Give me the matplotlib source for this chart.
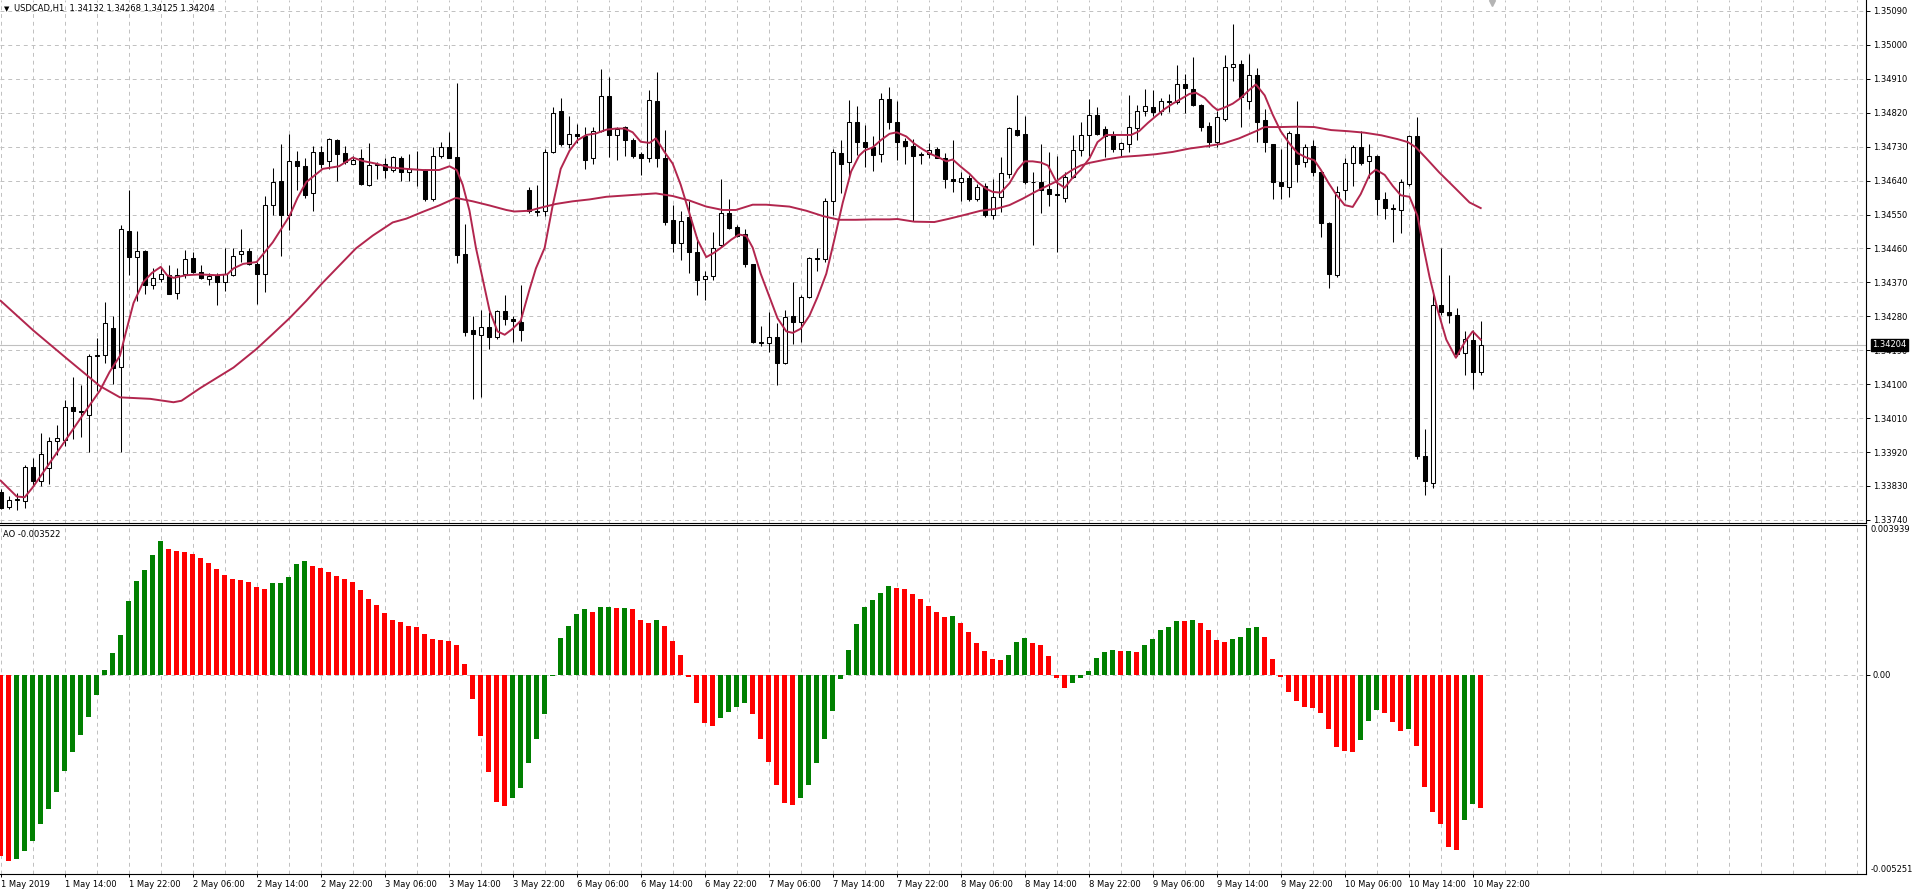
import numpy as np
import matplotlib
matplotlib.use("Agg")
import matplotlib.pyplot as plt
import matplotlib.transforms as mtransforms

# USDCAD H1, bar 0 = 1 May 2019 06:00, last bar = 10 May 2019 23:00
opens = [1.33814, 1.33775, 1.33793, 1.33789, 1.33881, 1.33843, 1.33878, 1.33948, 1.33953, 1.34040,
         1.34028, 1.34018, 1.34175, 1.34177, 1.34248, 1.34146, 1.34507, 1.34437, 1.34452, 1.34362,
         1.34380, 1.34389, 1.34342, 1.34392, 1.34435, 1.34398, 1.34380, 1.34389, 1.34370, 1.34389,
         1.34444, 1.34453, 1.34420, 1.34393, 1.34574, 1.34639, 1.34550, 1.34692, 1.34678, 1.34606,
         1.34715, 1.34692, 1.34747, 1.34712, 1.34685, 1.34699, 1.34629, 1.34682, 1.34685, 1.34668,
         1.34701, 1.34664, 1.34671, 1.34668, 1.34590, 1.34706, 1.34729, 1.34703, 1.34446, 1.34243,
         1.34231, 1.34251, 1.34226, 1.34293, 1.34272, 1.34264, 1.34615, 1.34560, 1.34560, 1.34717,
         1.34824, 1.34736, 1.34764, 1.34757, 1.34699, 1.34772, 1.34865, 1.34761, 1.34782, 1.34747,
         1.34710, 1.34699, 1.34851, 1.34701, 1.34535, 1.34474, 1.34543, 1.34451, 1.34380, 1.34386,
         1.34469, 1.34553, 1.34518, 1.34497, 1.34418, 1.34212, 1.34210, 1.34226, 1.34157, 1.34282,
         1.34264, 1.34331, 1.34435, 1.34431, 1.34587, 1.34712, 1.34688, 1.34796, 1.34743, 1.34728,
         1.34710, 1.34856, 1.34796, 1.34745, 1.34731, 1.34709, 1.34710, 1.34723, 1.34701, 1.34645,
         1.34637, 1.34648, 1.34592, 1.34626, 1.34550, 1.34597, 1.34658, 1.34774, 1.34764, 1.34636,
         1.34636, 1.34618, 1.34604, 1.34594, 1.34650, 1.34720, 1.34761, 1.34815, 1.34776, 1.34761,
         1.34723, 1.34738, 1.34779, 1.34825, 1.34834, 1.34825, 1.34851, 1.34849, 1.34895, 1.34883,
         1.34840, 1.34786, 1.34742, 1.34803, 1.34942, 1.34949, 1.34851, 1.34921, 1.34800, 1.34738,
         1.34636, 1.34623, 1.34764, 1.34688, 1.34731, 1.34662, 1.34528, 1.34389, 1.34614, 1.34687,
         1.34728, 1.34691, 1.34706, 1.34592, 1.34567, 1.34562, 1.34630, 1.34757, 1.33909, 1.33839,
         1.34310, 1.34291, 1.34284, 1.34182, 1.34218, 1.34132]
highs = [1.33822, 1.33802, 1.33810, 1.33885, 1.33905, 1.33970, 1.33960, 1.33991, 1.34058, 1.34120,
         1.34099, 1.34181, 1.34223, 1.34318, 1.34282, 1.34523, 1.34615, 1.34505, 1.34455, 1.34407,
         1.34407, 1.34417, 1.34407, 1.34456, 1.34450, 1.34415, 1.34395, 1.34395, 1.34462, 1.34462,
         1.34511, 1.34462, 1.34425, 1.34599, 1.34674, 1.34736, 1.34764, 1.34719, 1.34699, 1.34733,
         1.34733, 1.34754, 1.34750, 1.34733, 1.34706, 1.34724, 1.34740, 1.34689, 1.34699, 1.34706,
         1.34706, 1.34710, 1.34719, 1.34670, 1.34729, 1.34743, 1.34768, 1.34900, 1.34525, 1.34282,
         1.34296, 1.34292, 1.34296, 1.34337, 1.34282, 1.34362, 1.34622, 1.34629, 1.34724, 1.34835,
         1.34858, 1.34812, 1.34789, 1.34782, 1.34782, 1.34937, 1.34914, 1.34782, 1.34785, 1.34754,
         1.34715, 1.34879, 1.34928, 1.34775, 1.34574, 1.34560, 1.34587, 1.34490, 1.34400, 1.34504,
         1.34643, 1.34590, 1.34521, 1.34511, 1.34420, 1.34254, 1.34292, 1.34261, 1.34296, 1.34372,
         1.34337, 1.34437, 1.34462, 1.34594, 1.34724, 1.34747, 1.34854, 1.34838, 1.34788, 1.34757,
         1.34873, 1.34888, 1.34851, 1.34752, 1.34750, 1.34716, 1.34739, 1.34728, 1.34713, 1.34747,
         1.34662, 1.34655, 1.34630, 1.34633, 1.34645, 1.34703, 1.34782, 1.34866, 1.34811, 1.34662,
         1.34738, 1.34717, 1.34706, 1.34662, 1.34760, 1.34796, 1.34856, 1.34834, 1.34786, 1.34771,
         1.34742, 1.34866, 1.34841, 1.34883, 1.34881, 1.34859, 1.34869, 1.34946, 1.34924, 1.34968,
         1.34844, 1.34796, 1.34825, 1.34972, 1.35055, 1.34961, 1.34975, 1.34939, 1.34830, 1.34738,
         1.34723, 1.34771, 1.34851, 1.34738, 1.34747, 1.34669, 1.34531, 1.34626, 1.34699, 1.34735,
         1.34771, 1.34738, 1.34709, 1.34611, 1.34578, 1.34643, 1.34761, 1.34808, 1.33981, 1.34349,
         1.34461, 1.34390, 1.34301, 1.34240, 1.34244, 1.34268]
lows = [1.33768, 1.33770, 1.33766, 1.33771, 1.33832, 1.33830, 1.33836, 1.33912, 1.33936, 1.33955,
        1.33961, 1.33921, 1.34083, 1.34156, 1.34101, 1.33921, 1.34389, 1.34321, 1.34340, 1.34352,
        1.34370, 1.34338, 1.34325, 1.34382, 1.34395, 1.34379, 1.34362, 1.34309, 1.34346, 1.34387,
        1.34425, 1.34417, 1.34312, 1.34344, 1.34549, 1.34439, 1.34508, 1.34615, 1.34594, 1.34560,
        1.34674, 1.34671, 1.34640, 1.34685, 1.34683, 1.34629, 1.34625, 1.34643, 1.34646, 1.34664,
        1.34640, 1.34640, 1.34625, 1.34587, 1.34587, 1.34701, 1.34699, 1.34421, 1.34229, 1.34060,
        1.34067, 1.34192, 1.34219, 1.34257, 1.34212, 1.34215, 1.34553, 1.34546, 1.34546, 1.34712,
        1.34733, 1.34726, 1.34740, 1.34671, 1.34685, 1.34768, 1.34703, 1.34694, 1.34706, 1.34699,
        1.34654, 1.34688, 1.34675, 1.34521, 1.34451, 1.34428, 1.34396, 1.34337, 1.34324, 1.34376,
        1.34465, 1.34511, 1.34490, 1.34411, 1.34210, 1.34201, 1.34185, 1.34099, 1.34154, 1.34206,
        1.34212, 1.34328, 1.34400, 1.34424, 1.34549, 1.34606, 1.34646, 1.34708, 1.34676, 1.34665,
        1.34688, 1.34776, 1.34694, 1.34684, 1.34534, 1.34684, 1.34699, 1.34699, 1.34621, 1.34611,
        1.34585, 1.34585, 1.34585, 1.34543, 1.34538, 1.34557, 1.34648, 1.34757, 1.34630, 1.34470,
        1.34553, 1.34572, 1.34451, 1.34582, 1.34648, 1.34706, 1.34706, 1.34761, 1.34703, 1.34716,
        1.34703, 1.34716, 1.34747, 1.34812, 1.34811, 1.34815, 1.34822, 1.34844, 1.34819, 1.34837,
        1.34771, 1.34728, 1.34728, 1.34798, 1.34905, 1.34782, 1.34830, 1.34742, 1.34716, 1.34592,
        1.34592, 1.34597, 1.34636, 1.34677, 1.34652, 1.34490, 1.34356, 1.34385, 1.34589, 1.34626,
        1.34680, 1.34648, 1.34549, 1.34538, 1.34476, 1.34502, 1.34626, 1.33901, 1.33806, 1.33825,
        1.34284, 1.34262, 1.34175, 1.34123, 1.34087, 1.34125]
closes = [1.33771, 1.33793, 1.33795, 1.33881, 1.33844, 1.33914, 1.33948, 1.33957, 1.34040, 1.34028,
          1.34026, 1.34175, 1.34177, 1.34263, 1.34144, 1.34511, 1.34437, 1.34452, 1.34362, 1.34382,
          1.34392, 1.34340, 1.34389, 1.34431, 1.34397, 1.34381, 1.34386, 1.34370, 1.34391, 1.34440,
          1.34452, 1.34419, 1.34393, 1.34576, 1.34636, 1.34550, 1.34692, 1.34678, 1.34601, 1.34715,
          1.34685, 1.34749, 1.34710, 1.34689, 1.34694, 1.34632, 1.34682, 1.34685, 1.34668, 1.34703,
          1.34664, 1.34671, 1.34670, 1.34590, 1.34706, 1.34729, 1.34701, 1.34442, 1.34238, 1.34233,
          1.34251, 1.34226, 1.34293, 1.34272, 1.34268, 1.34243, 1.34560, 1.34557, 1.34717, 1.34819,
          1.34736, 1.34764, 1.34758, 1.34694, 1.34772, 1.34865, 1.34761, 1.34778, 1.34747, 1.34706,
          1.34701, 1.34854, 1.34699, 1.34529, 1.34474, 1.34532, 1.34451, 1.34376, 1.34386, 1.34462,
          1.34553, 1.34515, 1.34493, 1.34418, 1.34212, 1.34210, 1.34226, 1.34157, 1.34279, 1.34264,
          1.34331, 1.34435, 1.34432, 1.34587, 1.34717, 1.34685, 1.34796, 1.34743, 1.34729, 1.34709,
          1.34856, 1.34796, 1.34742, 1.34731, 1.34706, 1.34710, 1.34720, 1.34701, 1.34645, 1.34640,
          1.34648, 1.34592, 1.34623, 1.34550, 1.34597, 1.34659, 1.34779, 1.34761, 1.34636, 1.34637,
          1.34616, 1.34604, 1.34601, 1.34650, 1.34720, 1.34761, 1.34815, 1.34764, 1.34757, 1.34723,
          1.34739, 1.34783, 1.34825, 1.34837, 1.34822, 1.34851, 1.34849, 1.34895, 1.34885, 1.34840,
          1.34783, 1.34742, 1.34808, 1.34942, 1.34950, 1.34862, 1.34921, 1.34796, 1.34742, 1.34636,
          1.34626, 1.34767, 1.34684, 1.34728, 1.34662, 1.34528, 1.34393, 1.34611, 1.34687, 1.34728,
          1.34687, 1.34706, 1.34592, 1.34567, 1.34565, 1.34637, 1.34757, 1.33909, 1.33842, 1.34310,
          1.34291, 1.34283, 1.34179, 1.34221, 1.34132, 1.34204]

# Awesome Oscillator values, one per bar
ao = [-0.00479, -0.00491, -0.00486, -0.00464, -0.00437, -0.00394, -0.00355, -0.00309, -0.00255, -0.00205,
      -0.00160, -0.00112, -0.00053, 0.00013, 0.00057, 0.00103, 0.00193, 0.00247, 0.00276, 0.00316,
      0.00352, 0.00332, 0.00326, 0.00323, 0.00318, 0.00307, 0.00293, 0.00277, 0.00262, 0.00251,
      0.00250, 0.00243, 0.00230, 0.00225, 0.00241, 0.00242, 0.00256, 0.00291, 0.00299, 0.00285,
      0.00281, 0.00271, 0.00260, 0.00252, 0.00243, 0.00223, 0.00200, 0.00182, 0.00161, 0.00145,
      0.00138, 0.00129, 0.00124, 0.00107, 0.00095, 0.00090, 0.00089, 0.00078, 0.00028, -0.00065,
      -0.00163, -0.00257, -0.00335, -0.00346, -0.00324, -0.00298, -0.00234, -0.00170, -0.00104, -0.00003,
      0.00096, 0.00129, 0.00160, 0.00174, 0.00166, 0.00177, 0.00179, 0.00175, 0.00176, 0.00174,
      0.00145, 0.00135, 0.00145, 0.00128, 0.00088, 0.00051, -0.00006, -0.00076, -0.00128, -0.00136,
      -0.00115, -0.00099, -0.00085, -0.00075, -0.00104, -0.00170, -0.00231, -0.00291, -0.00338, -0.00344,
      -0.00324, -0.00291, -0.00234, -0.00170, -0.00096, -0.00011, 0.00065, 0.00132, 0.00177, 0.00197,
      0.00216, 0.00232, 0.00229, 0.00226, 0.00213, 0.00200, 0.00181, 0.00166, 0.00152, 0.00155,
      0.00137, 0.00111, 0.00082, 0.00061, 0.00042, 0.00039, 0.00052, 0.00085, 0.00096, 0.00083,
      0.00077, 0.00048, -0.00008, -0.00035, -0.00022, -0.00010, 0.00009, 0.00044, 0.00060, 0.00064,
      0.00061, 0.00063, 0.00060, 0.00077, 0.00093, 0.00117, 0.00125, 0.00141, 0.00140, 0.00144,
      0.00137, 0.00118, 0.00092, 0.00086, 0.00093, 0.00099, 0.00122, 0.00125, 0.00099, 0.00041,
      -0.00006, -0.00047, -0.00069, -0.00086, -0.00089, -0.00101, -0.00144, -0.00190, -0.00201, -0.00204,
      -0.00173, -0.00121, -0.00092, -0.00101, -0.00124, -0.00149, -0.00144, -0.00188, -0.00297, -0.00363,
      -0.00394, -0.00455, -0.00462, -0.00383, -0.00341, -0.003522]

# moving averages (bar position, price)
ma_fast_bar = [0, 2, 3, 4, 6, 8, 10, 12.4, 13.6, 14.9, 15.7, 16.6, 17.8, 18.9, 20, 20.8, 21.6, 23.2, 24.9, 27,
               28.3, 29.1, 30.3, 32, 34, 36.1, 37.1, 38.2, 40.25, 42.3, 44, 45.25, 46.9, 48.6, 50.7, 52.75,
               54.8, 56.1, 57, 57.75, 58.6, 59.4, 60.25, 61.1, 62.1, 63, 64, 65, 66.1, 66.9, 68, 69, 70,
               71.1, 72.1, 73.2, 74.4, 75.7, 76.9, 78, 79, 80, 81.1, 81.9, 83, 84, 85, 86.1, 87.1, 88.2,
               89.2, 90.25, 91.3, 92.3, 93.2, 94, 95, 96.1, 97.1, 98.2, 99, 100, 101.1, 102.1, 103.2,
               104.2, 105.25, 106.3, 107.3, 108, 109, 110, 111.1, 112, 113.2, 114.2, 115.25, 116.3, 117.3,
               118.2, 119, 120, 121.1, 122.1, 123.2, 124, 125, 126.1, 127.1, 128, 129, 130, 130.9, 132,
               133, 134, 135, 136.1, 137.1, 138.2, 139.2, 140.25, 141.3, 142.3, 143.4, 144.4, 145.5,
               146.5, 147.5, 148.6, 149.4, 150.5, 151.5, 152.1, 152.9, 154, 155, 156.1, 156.9, 158, 159,
               160, 161.1, 162.1, 163.2, 164.2, 165, 166, 166.9, 168, 169, 170, 171.1, 171.9, 173, 174,
               175, 176.1, 177.1, 177.75, 178.6, 179.6, 180.7, 181.9, 183, 184, 185]
ma_fast = [1.33844, 1.33802, 1.33800, 1.33826, 1.33887, 1.33948, 1.34010, 1.34083, 1.34132, 1.34175,
           1.34242, 1.34315, 1.34370, 1.34395, 1.34411, 1.34389, 1.34382, 1.34389, 1.34391, 1.34389,
           1.34391, 1.34407, 1.34419, 1.34424, 1.34476, 1.34546, 1.34594, 1.34636, 1.34671, 1.34678,
           1.34701, 1.34692, 1.34685, 1.34675, 1.34671, 1.34668, 1.34668, 1.34678, 1.34668, 1.34629,
           1.34560, 1.34462, 1.34379, 1.34296, 1.34240, 1.34231, 1.34247, 1.34268, 1.34351, 1.34407,
           1.34462, 1.34574, 1.34671, 1.34719, 1.34747, 1.34761, 1.34765, 1.34775, 1.34778, 1.34778,
           1.34768, 1.34743, 1.34740, 1.34752, 1.34715, 1.34685, 1.34629, 1.34553, 1.34483, 1.34437,
           1.34449, 1.34465, 1.34483, 1.34497, 1.34493, 1.34462, 1.34393, 1.34331, 1.34275, 1.34240,
           1.34236, 1.34247, 1.34282, 1.34331, 1.34393, 1.34483, 1.34581, 1.34664, 1.34706, 1.34720,
           1.34728, 1.34747, 1.34764, 1.34768, 1.34757, 1.34738, 1.34723, 1.34710, 1.34701, 1.34691,
           1.34696, 1.34677, 1.34658, 1.34636, 1.34618, 1.34610, 1.34608, 1.34633, 1.34669, 1.34691,
           1.34691, 1.34688, 1.34680, 1.34635, 1.34621, 1.34648, 1.34669, 1.34699, 1.34742, 1.34761,
           1.34761, 1.34761, 1.34761, 1.34771, 1.34793, 1.34811, 1.34830, 1.34844, 1.34856, 1.34870,
           1.34873, 1.34859, 1.34837, 1.34827, 1.34833, 1.34844, 1.34859, 1.34881, 1.34895, 1.34866,
           1.34815, 1.34771, 1.34738, 1.34713, 1.34701, 1.34694, 1.34669, 1.34633, 1.34604, 1.34575,
           1.34570, 1.34604, 1.34655, 1.34669, 1.34655, 1.34626, 1.34601, 1.34597, 1.34546, 1.34473,
           1.34385, 1.34298, 1.34218, 1.34170, 1.34211, 1.34240, 1.34218]
ma_slow_bar = [0, 4.1, 8.25, 12.4, 14.9, 18.7, 21.6, 22.6, 24.9, 29.1, 31.9, 34, 36.1, 38.2, 40.25, 42.3,
               44.4, 46.5, 49, 50.7, 52.75, 54.8, 56.9, 59, 61.1, 63.2, 64.2, 66.1, 67.3, 69.4, 71.5,
               73.6, 75.7, 77.75, 79.8, 81.9, 84, 86.1, 88.2, 90.25, 91.9, 94, 95.7, 98.6, 100.7, 102.75,
               104.8, 106.9, 109, 111.1, 112.1, 114.2, 116.7, 118.4, 120.5, 122.5, 124.4, 126.1, 127.75,
               129.4, 131.1, 131.9, 133, 134, 135, 136.1, 138.2, 140.25, 142.3, 144.4, 146.5, 148.6,
               150.7, 152.75, 154.8, 156.9, 158, 160, 162.1, 164.2, 166.3, 168.4, 170.5, 172.6, 174.6,
               175.9, 176.9, 178.2, 179.8, 181.9, 183.6, 185]
ma_slow = [1.34321, 1.34242, 1.34168, 1.34095, 1.34065, 1.34061, 1.34052, 1.34056, 1.34089, 1.34144,
           1.34192, 1.34233, 1.34275, 1.34321, 1.34369, 1.34414, 1.34460, 1.34494, 1.34529, 1.34539,
           1.34557, 1.34574, 1.34594, 1.34585, 1.34574, 1.34562, 1.34558, 1.34560, 1.34567, 1.34578,
           1.34585, 1.34590, 1.34597, 1.34600, 1.34603, 1.34606, 1.34599, 1.34587, 1.34571, 1.34562,
           1.34562, 1.34576, 1.34576, 1.34571, 1.34560, 1.34546, 1.34536, 1.34536, 1.34537, 1.34537,
           1.34538, 1.34531, 1.34530, 1.34538, 1.34549, 1.34560, 1.34565, 1.34575, 1.34592, 1.34611,
           1.34629, 1.34637, 1.34655, 1.34669, 1.34680, 1.34687, 1.34696, 1.34703, 1.34706, 1.34710,
           1.34716, 1.34725, 1.34731, 1.34738, 1.34752, 1.34771, 1.34782, 1.34782, 1.34783, 1.34782,
           1.34774, 1.34771, 1.34767, 1.34760, 1.34750, 1.34742, 1.34728, 1.34699, 1.34662, 1.34618,
           1.34582, 1.34567]

time_labels = ["1 May 2019", "1 May 14:00", "1 May 22:00", "2 May 06:00", "2 May 14:00", "2 May 22:00",
               "3 May 06:00", "3 May 14:00", "3 May 22:00", "6 May 06:00", "6 May 14:00", "6 May 22:00",
               "7 May 06:00", "7 May 14:00", "7 May 22:00", "8 May 06:00", "8 May 14:00", "8 May 22:00",
               "9 May 06:00", "9 May 14:00", "9 May 22:00", "10 May 06:00", "10 May 14:00", "10 May 22:00"]
price_ticks = [1.35090, 1.35000, 1.34910, 1.34820, 1.34730, 1.34640, 1.34550, 1.34460,
               1.34370, 1.34280, 1.34190, 1.34100, 1.34010, 1.33920, 1.33830, 1.33740]
ao_max, ao_min = 0.003939, -0.005251

W, H = 1914.0, 896.0
grid_c = "#c0c0c0"
ma_c = "#b2264e"
plt.rcParams['font.family'] = ['DejaVu Sans']

n = len(closes)
x = np.arange(n)
o = np.array(opens); c = np.array(closes); h = np.array(highs); l = np.array(lows)

fig = plt.figure(figsize=(W / 100, H / 100), dpi=100)
ax = fig.add_axes([0, 1 - 522.5 / H, 1866 / W, 522.5 / H])
ax2 = fig.add_axes([0, 1 - 874 / H, 1866 / W, (874 - 525) / H])

xl = (-0.7 / 8, (1866 - 0.7) / 8)
for a in (ax, ax2):
    a.set_xlim(*xl)
    for k in range(0, int(xl[1]) + 1, 4):
        a.axvline(k, color=grid_c, lw=0.7, ls=(0, (4, 4)), zorder=0)
    a.spines['left'].set_visible(False)
    for s in ['right', 'top', 'bottom']:
        a.spines[s].set_linewidth(0.8)
ax.spines['top'].set_visible(False)

ax.set_ylim(1.33733, 1.35119)
ax2.set_ylim(ao_min, ao_max)

# price panel
for p in price_ticks:
    ax.axhline(p, color=grid_c, lw=0.7, ls=(0, (4, 4)), zorder=0)
ax.axhline(c[-1], color="#c0c0c0", lw=0.8, zorder=1)

ax.vlines(x, l, h, color="black", lw=0.75, zorder=2)
up = c >= o
body_lo = np.minimum(o, c)
body_h = np.maximum(np.abs(c - o), 0.000004)
ax.bar(x, body_h, bottom=body_lo, width=0.5, color=np.where(up, "white", "black"),
       edgecolor="black", linewidth=0.75, zorder=3)

ax.plot(ma_slow_bar, ma_slow, color=ma_c, lw=1.4, zorder=4)
ax.plot(ma_fast_bar, ma_fast, color=ma_c, lw=1.4, zorder=4)

ax.yaxis.tick_right()
ax.set_yticks(price_ticks)
ax.set_yticklabels([f"{p:.5f}" for p in price_ticks])
ax.tick_params(axis='y', labelsize=6, length=3, width=0.7, pad=2)
ax.set_xticks([])

tr = mtransforms.blended_transform_factory(ax.transAxes, ax.transData)
ax.text(1.0035, c[-1], f"{c[-1]:.5f}", transform=tr, color="white", fontsize=6,
        va="center", ha="left", zorder=10, clip_on=False,
        bbox=dict(boxstyle="square,pad=0.2", fc="black", ec="black"))

tr_top = mtransforms.blended_transform_factory(ax.transData, ax.transAxes)
ax.plot([186.4], [1 - 3 / 522.5], marker="v", ms=5, color="#b4b4b4", transform=tr_top,
        clip_on=False, zorder=5)

# AO panel
ao_arr = np.array(ao)
cols = ["#ff0000"] + ["#008000" if ao_arr[i] > ao_arr[i - 1] else "#ff0000" for i in range(1, n)]
ax2.axhline(0, color=grid_c, lw=0.7, ls=(0, (4, 4)), zorder=0)
ax2.bar(x, ao_arr, width=0.66, color=cols, linewidth=0, zorder=2)

ax2.yaxis.tick_right()
ax2.set_yticks([0.0])
ax2.set_yticklabels(["0.00"])
ax2.tick_params(axis='y', labelsize=6, length=3, width=0.7, pad=2)
tr2 = mtransforms.blended_transform_factory(ax2.transAxes, ax2.transData)
ax2.text(1.0025, ao_max, f"{ao_max:.6f}", transform=tr2, fontsize=6, va="top", ha="left", clip_on=False)
ax2.text(1.0025, ao_min, f"{ao_min:.6f}", transform=tr2, fontsize=6, va="bottom", ha="left", clip_on=False)

ax2.set_xticks(np.arange(0, n, 8))
ax2.set_xticklabels(time_labels, ha="left")
ax2.tick_params(axis='x', labelsize=6, length=2.5, width=0.7, pad=1.5)

# header texts
fig.text(4 / W, 1 - 9 / H, "\u25bc", fontsize=5, va="center")
fig.text(14 / W, 1 - 9 / H,
         f"USDCAD,H1  {opens[-1]:.5f} {highs[-1]:.5f} {lows[-1]:.5f} {closes[-1]:.5f}",
         fontsize=6, va="center")
fig.text(3 / W, 1 - 534 / H, f"AO {ao[-1]:.6f}", fontsize=6, va="center")

fig.savefig("out.png", dpi=100, facecolor="white")
